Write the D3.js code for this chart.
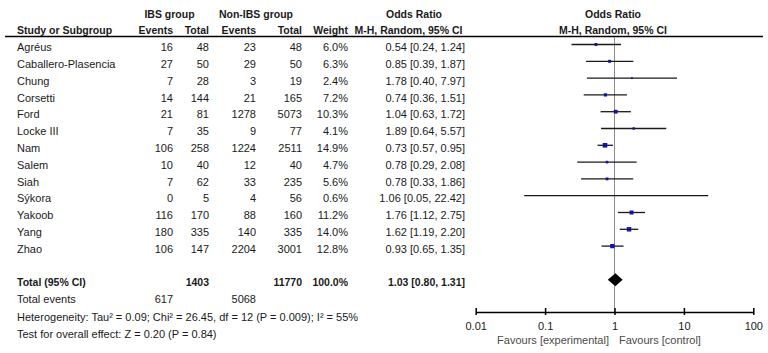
<!DOCTYPE html>
<html>
<head>
<meta charset="utf-8">
<script src="https://cdn.jsdelivr.net/npm/d3@7"></script>
<style>
body { margin: 0; background: white; }
text { font-family: "Liberation Sans", Arial, sans-serif; font-size: 11px; fill: #1a1a1a; }
.b { font-weight: bold; font-size: 10.5px; }
</style>
</head>
<body>
<svg id="chart" width="768" height="353"></svg>
<script>
// study data
var studies = ["Agréus", "Caballero-Plasencia", "Chung", "Corsetti", "Ford", "Locke III", "Nam",
               "Salem", "Siah", "Sýkora", "Yakoob", "Yang", "Zhao"];
var ibsEvents = [16, 27, 7, 14, 21, 7, 106, 10, 7, 0, 116, 180, 106];
var ibsTotal = [48, 50, 28, 144, 81, 35, 258, 40, 62, 5, 170, 335, 147];
var nonEvents = [23, 29, 3, 21, 1278, 9, 1224, 12, 33, 4, 88, 140, 2204];
var nonTotal = [48, 50, 19, 165, 5073, 77, 2511, 40, 235, 56, 160, 335, 3001];
var weights = [6.0, 6.3, 2.4, 7.2, 10.3, 4.1, 14.9, 4.7, 5.6, 0.6, 11.2, 14.0, 12.8];
var oddsRatio = [0.54, 0.85, 1.78, 0.74, 1.04, 1.89, 0.73, 0.78, 0.78, 1.06, 1.76, 1.62, 0.93];
var ciLow = [0.24, 0.39, 0.40, 0.36, 0.63, 0.64, 0.57, 0.29, 0.33, 0.05, 1.12, 1.19, 0.65];
var ciHigh = [1.24, 1.87, 7.97, 1.51, 1.72, 5.57, 0.95, 2.08, 1.86, 22.42, 2.75, 2.20, 1.35];

// pooled
var total = {ibsTotal: 1403, nonTotal: 11770, weight: "100.0%", or: 1.03, lo: 0.80, hi: 1.31,
             ibsEvents: 617, nonEvents: 5068};
var axisTicks = [0.01, 0.1, 1, 10, 100];
var heterogeneity = "Heterogeneity: Tau² = 0.09; Chi² = 26.45, df = 12 (P = 0.009); I² = 55%";
var overall = "Test for overall effect: Z = 0.20 (P = 0.84)";

var svg = d3.select("#chart");
var fmt2 = d3.format(".2f");

// row positions (index 14 = total row)
var y = d3.scaleLinear().domain([0, 14]).range([44.5, 279.7]);
var TXT = 6.7;
var x = d3.scaleLog().domain([0.01, 100]).range([475.7, 753.3]);
var size = d3.scaleSqrt().domain([0, 15]).range([0, 4.6]);

// column right edges
var col = {name: 17, ibsE: 173, ibsT: 209, nonE: 256, nonT: 302, w: 348, or: 465};

// headers
function txt(xx, yy, s, anchor, cls) {
    return svg.append("text").attr("x", xx).attr("y", yy)
        .attr("text-anchor", anchor || "start").attr("class", cls || null).text(s);
}
txt(169.5, 18, "IBS group", "middle", "b");
txt(256, 18, "Non-IBS group", "middle", "b");
txt(414, 18, "Odds Ratio", "middle", "b");
txt(613, 18, "Odds Ratio", "middle", "b");
txt(col.name, 34, "Study or Subgroup", "start", "b");
txt(col.ibsE, 34, "Events", "end", "b");
txt(col.ibsT, 34, "Total", "end", "b");
txt(col.nonE, 34, "Events", "end", "b");
txt(col.nonT, 34, "Total", "end", "b");
txt(col.w, 34, "Weight", "end", "b");
txt(408.5, 34, "M-H, Random, 95% CI", "middle", "b");
txt(613, 34, "M-H, Random, 95% CI", "middle", "b");

svg.append("line").attr("x1", 5).attr("x2", 763).attr("y1", 36.5).attr("y2", 36.5)
    .attr("stroke", "#000").attr("stroke-width", 1.5);

// reference line at OR = 1
svg.append("line").attr("x1", x(1)).attr("x2", x(1)).attr("y1", 37).attr("y2", 312)
    .attr("stroke", "#8c8c8c").attr("stroke-width", 1);

// study rows
var rows = svg.selectAll("g.row").data(studies).enter().append("g").attr("class", "row");
rows.append("text").attr("x", col.name).attr("y", function(d, i) { return y(i) + TXT; }).text(function(d) { return d; });
var cols = [[col.ibsE, ibsEvents], [col.ibsT, ibsTotal], [col.nonE, nonEvents], [col.nonT, nonTotal]];
cols.forEach(function(c) {
    rows.append("text").attr("x", c[0]).attr("y", function(d, i) { return y(i) + TXT; })
        .attr("text-anchor", "end").text(function(d, i) { return c[1][i]; });
});
rows.append("text").attr("x", col.w).attr("y", function(d, i) { return y(i) + TXT; })
    .attr("text-anchor", "end").text(function(d, i) { return weights[i].toFixed(1) + "%"; });
rows.append("text").attr("x", col.or).attr("y", function(d, i) { return y(i) + TXT; })
    .attr("text-anchor", "end")
    .text(function(d, i) { return fmt2(oddsRatio[i]) + " [" + fmt2(ciLow[i]) + ", " + fmt2(ciHigh[i]) + "]"; });

// CI lines + squares
rows.append("line")
    .attr("x1", function(d, i) { return x(ciLow[i]); })
    .attr("x2", function(d, i) { return x(ciHigh[i]); })
    .attr("y1", function(d, i) { return y(i); })
    .attr("y2", function(d, i) { return y(i); })
    .attr("stroke", "#1a1a1a").attr("stroke-width", 1.3);
rows.append("rect")
    .attr("x", function(d, i) { return x(oddsRatio[i]) - size(weights[i]) / 2; })
    .attr("y", function(d, i) { return y(i) - size(weights[i]) / 2; })
    .attr("width", function(d, i) { return size(weights[i]); })
    .attr("height", function(d, i) { return size(weights[i]); })
    .attr("fill", "#1212a6");

// total row
var ty = y(14);
txt(col.name, ty + TXT, "Total (95% CI)", "start", "b");
txt(col.ibsT, ty + TXT, total.ibsTotal, "end", "b");
txt(col.nonT, ty + TXT, total.nonTotal, "end", "b");
txt(col.w, ty + TXT, total.weight, "end", "b");
txt(col.or, ty + TXT, fmt2(total.or) + " [" + fmt2(total.lo) + ", " + fmt2(total.hi) + "]", "end", "b");
svg.append("path")
    .attr("d", "M" + x(total.lo) + "," + ty + "L" + x(total.or) + "," + (ty - 6.5) +
               "L" + x(total.hi) + "," + ty + "L" + x(total.or) + "," + (ty + 6.5) + "Z")
    .attr("fill", "#000");

txt(col.name, 303.3, "Total events");
txt(col.ibsE, 303.3, total.ibsEvents, "end");
txt(col.nonE, 303.3, total.nonEvents, "end");
txt(col.name, 320.5, heterogeneity);
txt(col.name, 337.6, overall);

// axis
var axis = d3.axisBottom(x).tickValues(axisTicks).tickFormat(function(d) { return d; }).tickSize(0);
var ag = svg.append("g").attr("transform", "translate(0,312)").call(axis);
ag.select(".domain").attr("stroke", "#000").attr("stroke-width", 1.5);
ag.selectAll(".tick text").attr("dy", null).attr("y", 17.5)
    .style("font-family", "Liberation Sans, Arial, sans-serif").style("font-size", "11px").attr("fill", "#1a1a1a");
ag.selectAll(".tick").append("line").attr("y1", -4).attr("y2", 3).attr("stroke", "#000").attr("stroke-width", 1.5);

txt(609, 343.5, "Favours [experimental]", "end").style("fill", "#4a4a4a");
txt(619, 343.5, "Favours [control]", "start").style("fill", "#4a4a4a");
</script>
</body>
</html>
